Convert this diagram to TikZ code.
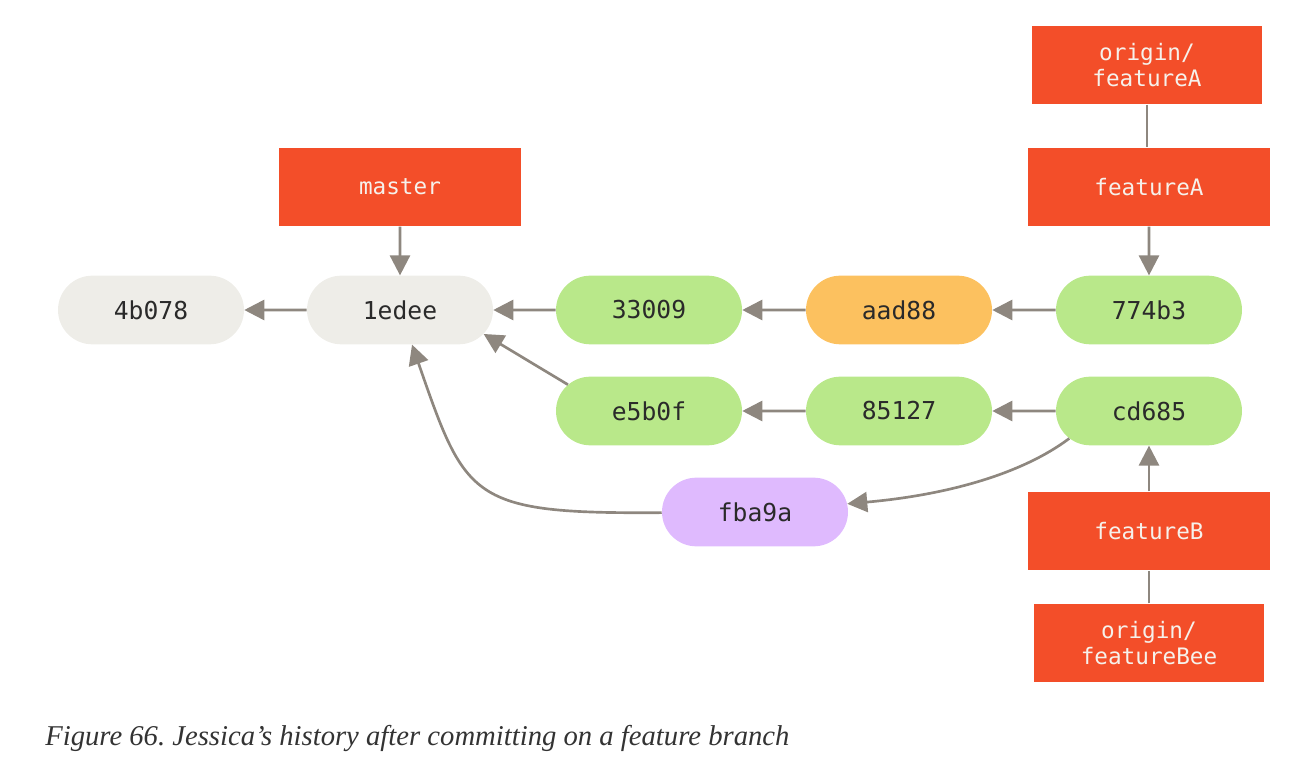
\documentclass[tikz,border=0pt]{standalone}
\usepackage{fontspec}
\setmainfont{Liberation Serif}
\setmonofont{DejaVu Sans Mono}
\usetikzlibrary{arrows.meta,shapes.misc}
\frenchspacing

\definecolor{gitred}{HTML}{F34E29}
\definecolor{gitgreen}{HTML}{B9E88A}
\definecolor{gitorange}{HTML}{FCC15F}
\definecolor{gitpurple}{HTML}{DFBAFE}
\definecolor{gitgray}{HTML}{EEEDE8}
\definecolor{linkgray}{HTML}{8E877F}
\definecolor{labeltext}{HTML}{F6F1EB}
\definecolor{committext}{HTML}{2A2A2A}
\definecolor{captiontext}{HTML}{333333}

\begin{document}
\begin{tikzpicture}[
        x=0.75pt, y=-0.75pt,
        commit/.style={rounded rectangle, fill=gitgreen, minimum width=139.5pt, minimum height=51.5pt,
            inner sep=0pt, text=committext, font=\ttfamily\fontsize{18.5}{18.5}\selectfont},
        branch/.style={rectangle, fill=gitred, minimum width=181.5pt, minimum height=59pt, inner sep=0pt,
            align=center, text=labeltext, font=\ttfamily\fontsize{17}{19}\selectfont},
        remote/.style={branch, minimum width=173pt},
        link/.style={draw=linkgray, line width=2pt},
        parent/.style={link, -{Triangle[length=15pt, width=15pt]}},
    ]

        \useasboundingbox (0,0) rectangle (1290,762);

        % commits
        \node[commit, fill=gitgray] (c4b078) at (151, 310) {4b078};
        \node[commit, fill=gitgray] (c1edee) at (400, 310) {1edee};
        \node[commit] (c33009) at (649, 310) {33009};
        \node[commit, fill=gitorange] (caad88) at (899, 310) {aad88};
        \node[commit] (c774b3) at (1149, 310) {774b3};
        \node[commit] (ce5b0f) at (649, 411) {e5b0f};
        \node[commit] (c85127) at (899, 411) {85127};
        \node[commit] (ccd685) at (1149, 411) {cd685};
        \node[commit, fill=gitpurple] (cfba9a) at (755, 512) {fba9a};

        % branches
        \node[branch] (master) at (400, 187) {master};
        \node[branch] (featureA) at (1149, 187) {featureA};
        \node[remote] (ofeatureA) at (1147, 65) {origin/\\featureA};
        \node[branch] (featureB) at (1149, 531) {featureB};
        \node[remote] (ofeatureB) at (1149, 643) {origin/\\featureBee};

        \foreach \from/\to in {c1edee/c4b078, c33009/c1edee, caad88/c33009, c774b3/caad88,
                c85127/ce5b0f, ccd685/c85127, master/c1edee, featureA/c774b3, featureB/ccd685} {
            \draw[parent] (\from) -- (\to);
        }

        \draw[parent] (ce5b0f.162) -- (c1edee.-16);
        \draw[parent] (ccd685.199) .. controls (1022, 474) and (947, 495) .. (cfba9a);
        \draw[parent] (cfba9a) .. controls (470, 514) and (466, 500) .. (c1edee);

        \draw[link] (ofeatureA) -- (ofeatureA |- featureA.north);
        \draw[link] (ofeatureB) -- (ofeatureB |- featureB.south);

        \node[anchor=base west, inner sep=0pt, text=captiontext,
            font=\itshape\fontsize{21.5}{25}\selectfont] (caption) at (45, 746)
            {Figure 66. Jessica’s history after committing on a feature branch};
    \end{tikzpicture}
\end{document}
